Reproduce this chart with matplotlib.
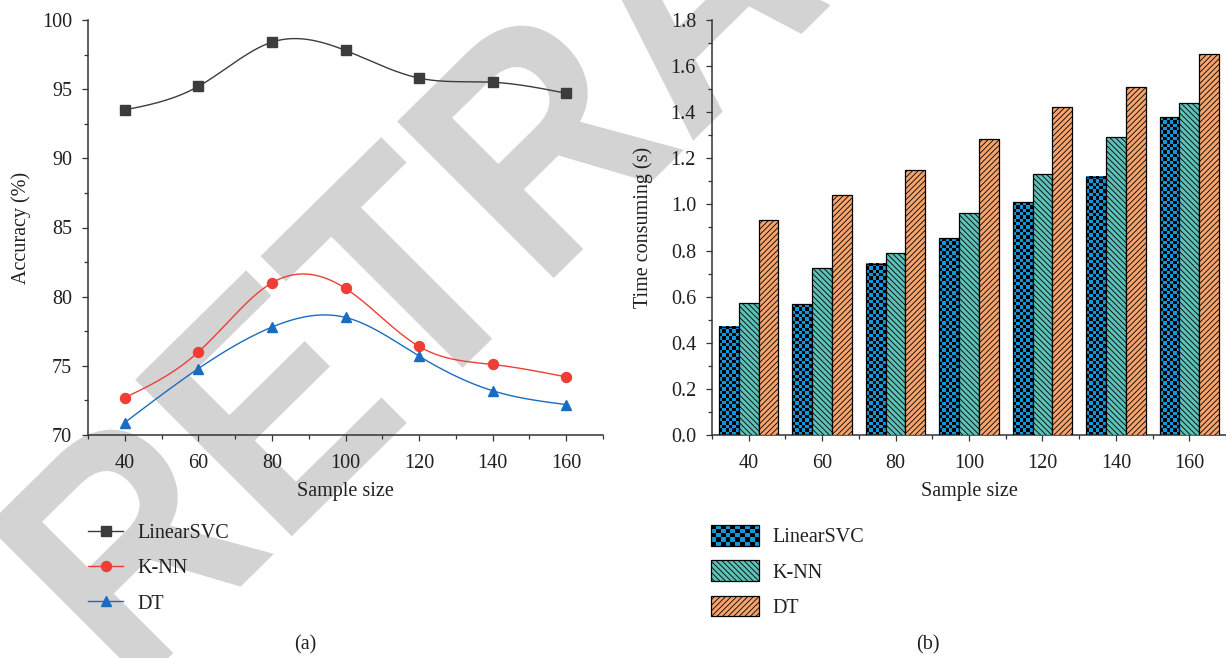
import numpy as np
import matplotlib
matplotlib.use("Agg")
import matplotlib.pyplot as plt
from matplotlib.patches import Rectangle, PathPatch, Patch
from matplotlib.colors import ListedColormap
from matplotlib.textpath import TextPath
from matplotlib.font_manager import FontProperties
from matplotlib.transforms import Affine2D
from matplotlib.legend_handler import HandlerBase
from matplotlib.ticker import MultipleLocator, FormatStrFormatter

# ---------------- data ----------------
sample_sizes = [40, 60, 80, 100, 120, 140, 160]
series_names = ["LinearSVC", "K-NN", "DT"]

acc_linearsvc = [93.5, 95.2, 98.4, 97.8, 95.8, 95.5, 94.7]
acc_knn = [72.7, 76.0, 81.0, 80.6, 76.4, 75.1, 74.2]
acc_dt = [70.9, 74.8, 77.8, 78.5, 75.7, 73.2, 72.2]

time_linearsvc = [0.47, 0.567, 0.743, 0.854, 1.01, 1.12, 1.378]
time_knn = [0.573, 0.726, 0.789, 0.961, 1.132, 1.291, 1.44]
time_dt = [0.931, 1.042, 1.151, 1.282, 1.421, 1.509, 1.651]

x_ticks = [40, 60, 80, 100, 120, 140, 160]

# ---------------- style ----------------
plt.rcParams["font.family"] = ["Liberation Serif", "DejaVu Serif"]
plt.rcParams["font.size"] = 14.5
plt.rcParams["hatch.linewidth"] = 0.6
plt.rcParams["text.color"] = "#231f20"
plt.rcParams["axes.labelcolor"] = "#231f20"
plt.rcParams["xtick.color"] = "#333333"
plt.rcParams["ytick.color"] = "#333333"
plt.rcParams["xtick.labelcolor"] = "#231f20"
plt.rcParams["ytick.labelcolor"] = "#231f20"

C_SVC = "#3c3c3c"
C_KNN = "#ee3e36"
C_DT = "#1a6cc0"
BLUE = "#1198da"
TEAL = "#5fc0b7"
ORANGE = "#f6a46e"
WM = "#d3d3d3"

W, H = 1226, 658
fig = plt.figure(figsize=(W / 100, H / 100), dpi=100)
fig.patch.set_facecolor("white")

# ---------------- watermark ----------------
wm_path = TextPath((0, 0), "RETRACTED", size=1,
                   prop=FontProperties(family="Liberation Sans", weight="bold"))
wm_tr = Affine2D(np.array([[205.0, -227.6, 130.0],
                           [202.0, 227.6, H - 695.6],
                           [0.0, 0.0, 1.0]]))
wm = PathPatch(wm_path, facecolor=WM, edgecolor="none", transform=wm_tr, zorder=-5)
fig.add_artist(wm)


def natural_spline(x, y, n=300):
    x = np.asarray(x, float)
    y = np.asarray(y, float)
    k = len(x)
    h = np.diff(x)
    A = np.zeros((k, k))
    b = np.zeros(k)
    A[0, 0] = 1
    A[-1, -1] = 1
    for i in range(1, k - 1):
        A[i, i - 1] = h[i - 1]
        A[i, i] = 2 * (h[i - 1] + h[i])
        A[i, i + 1] = h[i]
        b[i] = 6 * ((y[i + 1] - y[i]) / h[i] - (y[i] - y[i - 1]) / h[i - 1])
    M = np.linalg.solve(A, b)
    xs = np.linspace(x[0], x[-1], n)
    idx = np.clip(np.searchsorted(x, xs) - 1, 0, k - 2)
    x0, x1 = x[idx], x[idx + 1]
    hh = x1 - x0
    t0 = x1 - xs
    t1 = xs - x0
    ys = (M[idx] * t0 ** 3 / (6 * hh) + M[idx + 1] * t1 ** 3 / (6 * hh)
          + (y[idx] / hh - M[idx] * hh / 6) * t0
          + (y[idx + 1] / hh - M[idx + 1] * hh / 6) * t1)
    return xs, ys


def style_axes(ax):
    ax.set_facecolor("none")
    for s in ["top", "right"]:
        ax.spines[s].set_visible(False)
    for s in ["left", "bottom"]:
        ax.spines[s].set_linewidth(1.1)
        ax.spines[s].set_color("#333333")
    ax.tick_params(which="major", direction="out", length=4.5, width=0.9)
    ax.tick_params(which="minor", direction="out", length=3, width=0.9)
    ax.tick_params(axis="x", which="major", pad=9)
    ax.tick_params(axis="y", which="major", pad=7)
    ax.set_xlim(30, 170)
    ax.set_xticks(x_ticks)
    ax.xaxis.set_minor_locator(MultipleLocator(20, offset=10))


# ---------------- panel (a) ----------------
ax1 = fig.add_axes([88 / W, 1 - 435 / H, (603 - 88) / W, (435 - 20) / H])
style_axes(ax1)
ax1.set_ylim(70, 100)
ax1.set_yticks(np.arange(70, 101, 5))
ax1.yaxis.set_minor_locator(MultipleLocator(2.5))

line_specs = [
    (acc_linearsvc, C_SVC, "s", 6.5),
    (acc_knn, C_KNN, "o", 7.2),
    (acc_dt, C_DT, "^", 7.8),
]
handles = []
for (vals, col, mk, ms), name in zip(line_specs, series_names):
    xs, ys = natural_spline(sample_sizes, vals)
    ax1.plot(xs, ys, color=col, lw=1.0, zorder=3)
    ax1.plot(sample_sizes, vals, linestyle="none", marker=mk, ms=ms,
             color=col, mec=col, zorder=4)
    h, = ax1.plot([], [], color=col, lw=1.0, marker=mk, ms=ms, mec=col)
    handles.append(h)

ax1.set_xlabel("Sample size", va="center")
ax1.xaxis.set_label_coords(0.5, -0.137)
ax1.set_ylabel("Accuracy (%)", va="center")
ax1.yaxis.set_label_coords(-0.13, 0.5)

ax1.legend(handles, series_names, loc="upper left",
           bbox_to_anchor=(88 / W, 1 - 524 / H), bbox_transform=fig.transFigure,
           frameon=False, borderpad=0, borderaxespad=0, handlelength=1.75,
           handletextpad=0.7, labelspacing=0.8)

# ---------------- panel (b) ----------------
ax2 = fig.add_axes([712 / W, 1 - 435 / H, (W - 712) / W, (435 - 20) / H])
style_axes(ax2)
ax2.set_ylim(0, 1.8)
ax2.set_yticks(np.arange(0, 1.81, 0.2))
ax2.yaxis.set_major_formatter(FormatStrFormatter("%.1f"))
ax2.yaxis.set_minor_locator(MultipleLocator(0.1))

bw = 5.4
xpos = np.array(sample_sizes, float)
b_svc = ax2.bar(xpos - bw, time_linearsvc, width=bw, facecolor="none",
                edgecolor="black", lw=0.9, zorder=3)
b_knn = ax2.bar(xpos, time_knn, width=bw, facecolor=TEAL, edgecolor="black",
                lw=0.9, hatch="\\" * 6, zorder=3)
b_dt = ax2.bar(xpos + bw, time_dt, width=bw, facecolor=ORANGE, edgecolor="black",
               lw=0.9, hatch="/" * 6, zorder=3)

checker_cmap = ListedColormap([BLUE, "black"])
px_per_unit = 415 / 1.8
for rect in b_svc:
    x0, w, hgt = rect.get_x(), rect.get_width(), rect.get_height()
    ncols = 6
    nrows = max(1, int(round(hgt * px_per_unit / 3.35)))
    arr = np.add.outer(np.arange(nrows), np.arange(ncols)) % 2
    ax2.imshow(arr, extent=(x0, x0 + w, 0, hgt), origin="lower", cmap=checker_cmap,
               interpolation="nearest", aspect="auto", zorder=2, vmin=0, vmax=1)
ax2.set_xlim(30, 170)
ax2.set_ylim(0, 1.8)

ax2.set_xlabel("Sample size", va="center")
ax2.xaxis.set_label_coords(0.5, -0.137)
ax2.set_ylabel("Time consuming (s)", va="center")
ax2.yaxis.set_label_coords(-0.134, 0.5)


class HandlerChecker(HandlerBase):
    def create_artists(self, legend, orig_handle, xdescent, ydescent, width,
                       height, fontsize, trans):
        x0, y0 = -xdescent, -ydescent
        arts = [Rectangle((x0, y0), width, height, facecolor=BLUE,
                          edgecolor="none", transform=trans)]
        nc, nr = 10, 5
        cw, ch = width / nc, height / nr
        for i in range(nr):
            for j in range(nc):
                if (i + j) % 2 == 0:
                    arts.append(Rectangle((x0 + j * cw, y0 + i * ch), cw, ch,
                                          facecolor="black", edgecolor="none",
                                          transform=trans))
        arts.append(Rectangle((x0, y0), width, height, facecolor="none",
                              edgecolor="black", lw=0.9, transform=trans))
        return arts


proxy_svc = Patch(facecolor=BLUE, edgecolor="black")
ax2.legend([proxy_svc, b_knn, b_dt], series_names, loc="upper left",
           bbox_to_anchor=(711 / W, 1 - 525 / H), bbox_transform=fig.transFigure,
           frameon=False, borderpad=0, borderaxespad=0, handlelength=2.4,
           handleheight=1.2, handletextpad=0.65, labelspacing=0.66,
           handler_map={proxy_svc: HandlerChecker()})

# ---------------- captions ----------------
fig.text(305 / W, 1 - 645 / H, "(a)", ha="center", va="center")
fig.text(928 / W, 1 - 645 / H, "(b)", ha="center", va="center")

fig.savefig("out.png", dpi=100, facecolor="white")
